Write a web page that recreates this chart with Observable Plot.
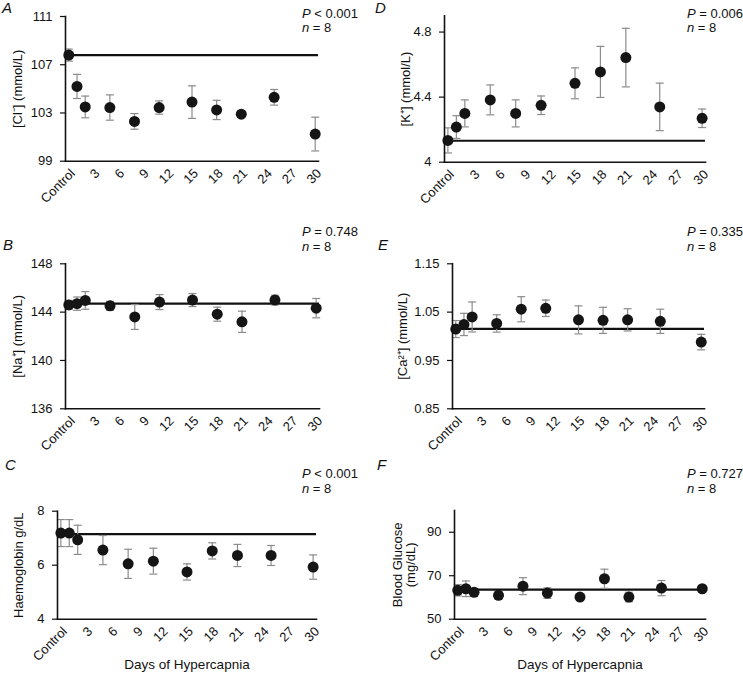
<!DOCTYPE html>
<html>
<head>
<meta charset="utf-8">
<script src="https://cdn.jsdelivr.net/npm/d3@7"></script>
<script src="https://cdn.jsdelivr.net/npm/@observablehq/plot@0.6"></script>
<style>
  html, body { margin: 0; padding: 0; background: #fff; }
  #root { position: relative; width: 743px; height: 673px; font-family: "Liberation Sans", Arial, Helvetica, sans-serif; color: #111; overflow: hidden; }
  .panel { position: absolute; }
  .txt { position: absolute; white-space: nowrap; line-height: 1; }
  .letter { font-size: 15px; font-style: italic; }
  .stat { font-size: 13px; }
  .stat i { font-style: italic; }
</style>
</head>
<body>
<div id="root"></div>
<script>
// ---- data ----
const days = [0, 1, 2, 5, 8, 11, 15, 18, 21, 25, 30];
const tickDays = [0, 3, 6, 9, 12, 15, 18, 21, 24, 27, 30];
const tickNames = ["Control", "3", "6", "9", "12", "15", "18", "21", "24", "27", "30"];

const clMean = [107.8, 105.2, 103.5, 103.45, 102.3, 103.45, 103.9, 103.25, 102.9, 104.3, 101.25];
const clErr  = [0.5, 1.0, 0.9, 1.05, 0.65, 0.55, 1.35, 0.8, 0.12, 0.65, 1.4];
const clBase = 107.8;
const clTicks = [99, 103, 107, 111];

const naMean = [144.6, 144.7, 144.97, 144.52, 143.6, 144.83, 145.0, 143.83, 143.2, 145.0, 144.33];
const naErr  = [0.37, 0.55, 0.73, 0.37, 1.03, 0.62, 0.54, 0.58, 0.88, 0.4, 0.8];
const naBase = 144.7;
const naTicks = [136, 140, 144, 148];

const hbMean = [7.19, 7.19, 6.94, 6.56, 6.05, 6.15, 5.75, 6.53, 6.36, 6.36, 5.93];
const hbErr  = [0.5, 0.5, 0.54, 0.54, 0.54, 0.48, 0.3, 0.3, 0.41, 0.37, 0.45];
const hbBase = 7.15;
const hbTicks = [4, 6, 8];

const kMean = [4.134, 4.216, 4.30, 4.383, 4.30, 4.35, 4.485, 4.555, 4.643, 4.34, 4.27];
const kErr  = [0.077, 0.07, 0.083, 0.092, 0.083, 0.057, 0.095, 0.157, 0.18, 0.146, 0.057];
const kBase = 4.132;
const kTicks = [4, 4.4, 4.8];

const caMean = [1.015, 1.0245, 1.040, 1.0266, 1.056, 1.058, 1.034, 1.033, 1.034, 1.031, 0.988];
const caErr  = [0.0176, 0.023, 0.031, 0.018, 0.026, 0.017, 0.029, 0.027, 0.023, 0.025, 0.016];
const caBase = 1.0155;
const caTicks = [0.85, 0.95, 1.05, 1.15];

const gluMean = [63.3, 64.0, 62.4, 61.0, 65.2, 62.0, 60.2, 68.6, 60.2, 64.3, 64.0];
const gluErr  = [2.6, 3.6, 1.7, 1.6, 3.9, 2.4, 1.1, 4.4, 2.2, 3.5, 0.6];
const gluBase = 63.6;
const gluTicks = [50, 70, 90];

const panelLetters = ["A", "B", "C", "D", "E", "F"];
const pValues = ["< 0.001", "= 0.748", "< 0.001", "= 0.006", "= 0.335", "= 0.727"];
const nValue = "8";
const xTitle = "Days of Hypercapnia";

// ---- layout ----
const panels = [
  {mean: clMean, err: clErr, base: clBase, ticks: clTicks, domain: [99, 111], label: "[Cl\u207B] (mmol/L)",
   left: 0, top: 0, width: 372, height: 215, mL: 65, mR: 54, mT: 16, mB: 54.3, lo: 53, xlabel: false},
  {mean: naMean, err: naErr, base: naBase, ticks: naTicks, domain: [136, 148], label: "[Na\u207A] (mmol/L)",
   left: 0, top: 215, width: 372, height: 240, mL: 65, mR: 53, mT: 48.3, mB: 46.7, lo: 53, xlabel: false},
  {mean: hbMean, err: hbErr, base: hbBase, ticks: hbTicks, domain: [4, 8], label: "Haemoglobin g/dL",
   left: 0, top: 440, width: 372, height: 233, mL: 57, mR: 56, mT: 70.7, mB: 54.3, lo: 44, xlabel: true},
  {mean: kMean, err: kErr, base: kBase, ticks: kTicks, domain: [4, 4.9], label: "[K\u207A] (mmol/L)",
   left: 372, top: 0, width: 371, height: 215, mL: 72, mR: 38, mT: 15.3, mB: 53.3, lo: 44, xlabel: false},
  {mean: caMean, err: caErr, base: caBase, ticks: caTicks, domain: [0.85, 1.15], label: "[Ca\u00B2\u207A] (mmol/L)",
   left: 372, top: 215, width: 371, height: 240, mL: 80, mR: 39, mT: 48.3, mB: 46.7, lo: 55, xlabel: false},
  {mean: gluMean, err: gluErr, base: gluBase, ticks: gluTicks, domain: [50, 100], label: "Blood Glucose\n(mg/dL)",
   left: 372, top: 440, width: 371, height: 233, mL: 82, mR: 38, mT: 70, mB: 54.3, lo: 62, xlabel: true}
];

const textPos = [
  {lx: 2, ly: 0, px: 302, py: 6.5},
  {lx: 3, ly: 237, px: 302, py: 225},
  {lx: 5, ly: 457, px: 302, py: 467},
  {lx: 375, ly: 0, px: 687, py: 6.5},
  {lx: 378, ly: 237, px: 687, py: 225},
  {lx: 377, ly: 457, px: 687, py: 467}
];

const capSymbol = { draw(ctx) { ctx.moveTo(-4, 0); ctx.lineTo(4, 0); } };
const root = document.getElementById("root");

panels.forEach((p, i) => {
  const data = days.map((d, j) => ({day: d, m: p.mean[j], lo: p.mean[j] - p.err[j], hi: p.mean[j] + p.err[j]}));
  const marks = [
    Plot.ruleY([p.base], {stroke: "#111", strokeWidth: 2.2}),
    Plot.ruleX(data, {x: "day", y1: "lo", y2: "hi", stroke: "#8c8c8c", strokeWidth: 1.2}),
    Plot.dot(data, {x: "day", y: "lo", symbol: capSymbol, stroke: "#8c8c8c", strokeWidth: 1.2, fill: "none"}),
    Plot.dot(data, {x: "day", y: "hi", symbol: capSymbol, stroke: "#8c8c8c", strokeWidth: 1.2, fill: "none"}),
    Plot.dot(data, {x: "day", y: "m", r: 5.5, fill: "#151515", stroke: "none"}),
    Plot.axisY({ticks: p.ticks, tickFormat: d => String(d), tickSize: 5, tickPadding: 8, strokeWidth: 1.2, fontSize: 13,
      label: p.label, labelAnchor: "center", labelArrow: "none", labelOffset: p.lo}),
    Plot.axisX({ticks: tickDays, tickFormat: d => tickNames[tickDays.indexOf(d)], tickRotate: -45, tickSize: 0, tickPadding: 10,
      dx: 4, label: null, fontSize: 13}),
    Plot.frame({anchor: "left", stroke: "#111", strokeWidth: 1.6}),
    Plot.frame({anchor: "bottom", stroke: "#111", strokeWidth: 1.6})
  ];
  if (p.xlabel) {
    marks.push(Plot.text([xTitle], {frameAnchor: "bottom", dy: 50, lineAnchor: "bottom", fontSize: 13.5, fill: "#111"}));
  }
  const chart = Plot.plot({
    width: p.width, height: p.height,
    marginLeft: p.mL, marginRight: p.mR, marginTop: p.mT, marginBottom: p.mB,
    style: {fontFamily: '"Liberation Sans", Arial, Helvetica, sans-serif', fontSize: "13px", color: "#111", background: "transparent", overflow: "visible"},
    x: {domain: [-0.4, 30.4]},
    y: {domain: p.domain},
    marks
  });
  chart.classList.add("panel");
  chart.style.left = p.left + "px";
  chart.style.top = p.top + "px";
  chart.style.maxWidth = "none";
  root.appendChild(chart);

  const t = textPos[i];
  const L = document.createElement("div");
  L.className = "txt letter";
  L.style.left = t.lx + "px"; L.style.top = t.ly + "px";
  L.textContent = panelLetters[i];
  root.appendChild(L);

  const P = document.createElement("div");
  P.className = "txt stat";
  P.style.left = t.px + "px"; P.style.top = t.py + "px";
  P.innerHTML = "<i>P</i> " + pValues[i];
  root.appendChild(P);

  const N = document.createElement("div");
  N.className = "txt stat";
  N.style.left = t.px + "px"; N.style.top = (t.py + 14.5) + "px";
  N.innerHTML = "<i>n</i> = " + nValue;
  root.appendChild(N);
});
</script>
</body>
</html>
